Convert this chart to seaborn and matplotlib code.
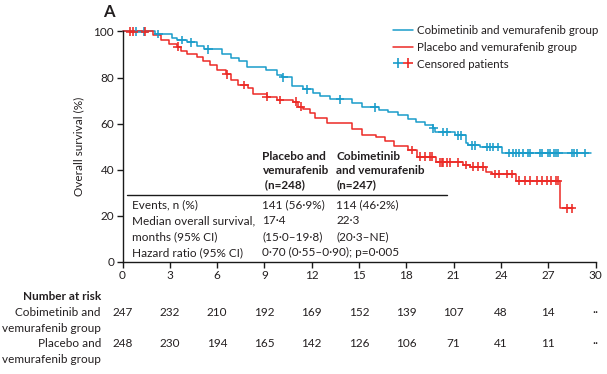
import matplotlib
matplotlib.use("Agg")
import matplotlib.pyplot as plt
import matplotlib.transforms as mtransforms
from matplotlib.lines import Line2D
from matplotlib.legend_handler import HandlerTuple
import numpy as np
import pandas as pd
import seaborn as sns

# Kaplan-Meier steps: time of drop (months), survival after drop (%)
cobi_t = [0, 2.06, 3.12, 3.46, 4.07, 4.74, 5.17, 6.29, 6.88, 7.41, 7.88, 9.10, 9.78,
          10.1, 10.73, 11.45, 12.1, 12.52, 13.16, 14.53, 15.17, 16.3, 16.86, 17.5,
          18.1, 18.6, 19.2, 19.7, 19.85, 21.1, 21.76, 21.9, 22.67, 24.05, 29.7]
cobi_s = [100, 98.9, 97.0, 96.3, 95.3, 93.6, 92.3, 90.1, 88.6, 87.3, 84.6, 83.3, 81.1,
          80.1, 76.4, 74.9, 73.4, 72.0, 70.6, 69.1, 67.1, 66.0, 65.2, 63.8,
          61.9, 60.8, 59.4, 58.0, 56.4, 55.0, 51.8, 50.7, 49.9, 47.3, 47.3]
cobi_cens = [0.86, 1.36, 2.27, 3.75, 4.34, 5.44, 10.2, 11.68, 13.8, 16.0,
             19.71, 20.3, 20.56, 21.3, 21.5, 22.14, 22.35, 23.1, 23.3, 23.5, 23.8,
             24.53, 24.74, 24.95, 25.16, 25.42, 25.73, 25.84, 26.47, 26.58, 27.0,
             27.1, 27.36, 27.49, 27.64, 28.48, 28.63, 28.8, 29.33]

plac_t = [0, 1.95, 2.42, 2.97, 3.44, 3.71, 4.07, 4.74, 5.12, 5.55, 6.01, 6.56, 6.88,
          7.34, 7.98, 8.29, 9.14, 9.78, 10.83, 11.15, 11.46, 11.89, 12.2, 12.99,
          14.53, 15.17, 16.07, 16.65, 17.22, 18.12, 18.66, 19.88, 21.6, 22.04,
          23.05, 23.41, 24.95, 27.74, 28.6]
plac_s = [100, 98.5, 96.3, 94.4, 93.4, 91.5, 90.1, 88.8, 87.2, 85.5, 83.3, 81.4, 79.0,
          76.8, 75.4, 72.8, 71.7, 70.3, 69.5, 67.4, 66.2, 64.5, 62.3, 60.2,
          57.6, 55.1, 54.1, 52.6, 50.3, 48.6, 45.7, 43.3, 42.1, 41.3,
          39.2, 38.2, 35.3, 23.3, 23.3]
plac_cens = [0.48, 0.68, 1.43, 3.5, 6.6, 7.72, 9.14, 9.99, 11.0, 11.3,
             18.34, 18.87, 19.2, 19.5, 19.6, 20.13, 20.24, 20.34, 20.56, 20.77,
             21.3, 21.8, 22.25, 22.56, 22.88, 23.6, 23.9, 24.4, 24.7,
             25.16, 25.5, 25.84, 26.27, 26.58, 26.9, 27.2, 27.5, 27.6, 28.17, 28.48]

groups = ["Cobimetinib and vemurafenib group", "Placebo and vemurafenib group"]
colors = {groups[0]: "#1a9cca", groups[1]: "#ec2a26"}

risk_months = list(range(0, 31, 3))
risk_cobi = ["247", "232", "210", "192", "169", "152", "139", "107", "48", "14", "··"]
risk_plac = ["248", "230", "194", "165", "142", "126", "106", "71", "41", "11", "··"]

table_rows = ["Events, n (%)", "Median overall survival,", "months (95% CI)",
              "Hazard ratio (95% CI)"]
table_plac = ["141 (56·9%)", "17·4", "(15·0–19·8)", "0·70 (0·55–0·90); p=0·005"]
table_cobi = ["114 (46·2%)", "22·3", "(20·3–NE)", ""]

sns.set_style("ticks")
plt.rcParams["font.family"] = ["Lato", "DejaVu Sans"]
TXT = "#231f20"
FS = 8.5

W, H = 607, 374
fig = plt.figure(figsize=(W / 100, H / 100), dpi=100)
ax = fig.add_axes([122.5 / W, 1 - 262 / H, (595.5 - 122.5) / W, (262 - 31.5) / H])


def px(x, y):
    return x / W, 1 - y / H


curves = pd.concat([
    pd.DataFrame({"time": cobi_t, "surv": cobi_s, "group": groups[0]}),
    pd.DataFrame({"time": plac_t, "surv": plac_s, "group": groups[1]}),
])
sns.lineplot(data=curves, x="time", y="surv", hue="group", palette=colors,
             drawstyle="steps-post", linewidth=1.1, estimator=None, sort=False,
             legend=False, ax=ax, clip_on=False)


def level_at(times, surv, t):
    idx = np.searchsorted(times, t, side="right") - 1
    return np.asarray(surv)[idx]


cens = pd.concat([
    pd.DataFrame({"time": cobi_cens, "surv": level_at(cobi_t, cobi_s, cobi_cens),
                  "group": groups[0]}),
    pd.DataFrame({"time": plac_cens, "surv": level_at(plac_t, plac_s, plac_cens),
                  "group": groups[1]}),
])
sns.scatterplot(data=cens, x="time", y="surv", hue="group", palette=colors,
                marker="+", s=40, linewidth=1.15, legend=False, ax=ax,
                clip_on=False, zorder=3)

ax.set_xlim(0, 30)
ax.set_ylim(0, 100)
ax.set_xticks(risk_months)
ax.set_yticks(range(0, 101, 20))
ax.set_xlabel("")
ax.set_ylabel("Overall survival (%)", fontsize=FS, color=TXT, labelpad=7)
sns.despine(ax=ax)
for sp in ["left", "bottom"]:
    ax.spines[sp].set_linewidth(1.0)
    ax.spines[sp].set_color("#1a1a1a")
ax.tick_params(direction="out", length=4, width=1.0, labelsize=FS,
               colors="#1a1a1a", labelcolor=TXT, pad=2)

fig.text(*px(103, 12), "A", fontsize=12, fontweight="bold", color=TXT, va="center")

# legend
handles = [
    Line2D([], [], color=colors[groups[0]], lw=1.1),
    Line2D([], [], color=colors[groups[1]], lw=1.1),
    (Line2D([], [], color=colors[groups[0]], marker="+", ls="", ms=7, mew=1.2),
     Line2D([], [], color=colors[groups[1]], marker="+", ls="", ms=7, mew=1.2)),
]
fig.legend(handles, groups + ["Censored patients"], loc="upper left",
           bbox_to_anchor=px(393, 25), frameon=False, fontsize=8.3,
           handlelength=1.75, handletextpad=0.35, labelspacing=0.5,
           borderpad=0, borderaxespad=0, labelcolor=TXT,
           handler_map={tuple: HandlerTuple(ndivide=None, pad=0.1)})

# inset table
fig.text(*px(262.5, 170.5), "Placebo and\nvemurafenib\n (n=248)", fontsize=FS,
         fontweight="bold", color=TXT, va="center", linespacing=1.3)
fig.text(*px(336.5, 170.5), "Cobimetinib\nand vemurafenib\n(n=247)", fontsize=FS,
         fontweight="bold", color=TXT, va="center", linespacing=1.3)
fig.add_artist(Line2D([126.5 / W, 446.5 / W], [1 - 195 / H] * 2,
                      color="#1a1a1a", lw=1.0))
row_y = [205, 221, 236.7, 252.7]
for y, lab, a, b in zip(row_y, table_rows, table_plac, table_cobi):
    fig.text(*px(132, y), lab, fontsize=FS, color=TXT, va="center")
    fig.text(*px(262.5, y), a, fontsize=FS, color=TXT, va="center")
    if b:
        fig.text(*px(336.5, y), b, fontsize=FS, color=TXT, va="center")

# number at risk
tr = mtransforms.blended_transform_factory(ax.transData, fig.transFigure)
fig.text(*px(101, 296), "Number at risk", fontsize=FS, fontweight="bold",
         color=TXT, ha="right", va="center")
for y, lab in zip([312.3, 328.3, 343.3, 359.3],
                  ["Cobimetinib and", "vemurafenib group", "Placebo and",
                   "vemurafenib group"]):
    fig.text(*px(101, y), lab, fontsize=FS, color=TXT, ha="right", va="center")
for m, a, b in zip(risk_months, risk_cobi, risk_plac):
    ax.text(m, 1 - 312.3 / H, a, transform=tr, fontsize=FS, color=TXT,
            ha="center", va="center")
    ax.text(m, 1 - 343.3 / H, b, transform=tr, fontsize=FS, color=TXT,
            ha="center", va="center")

fig.savefig("out.png", dpi=100)
